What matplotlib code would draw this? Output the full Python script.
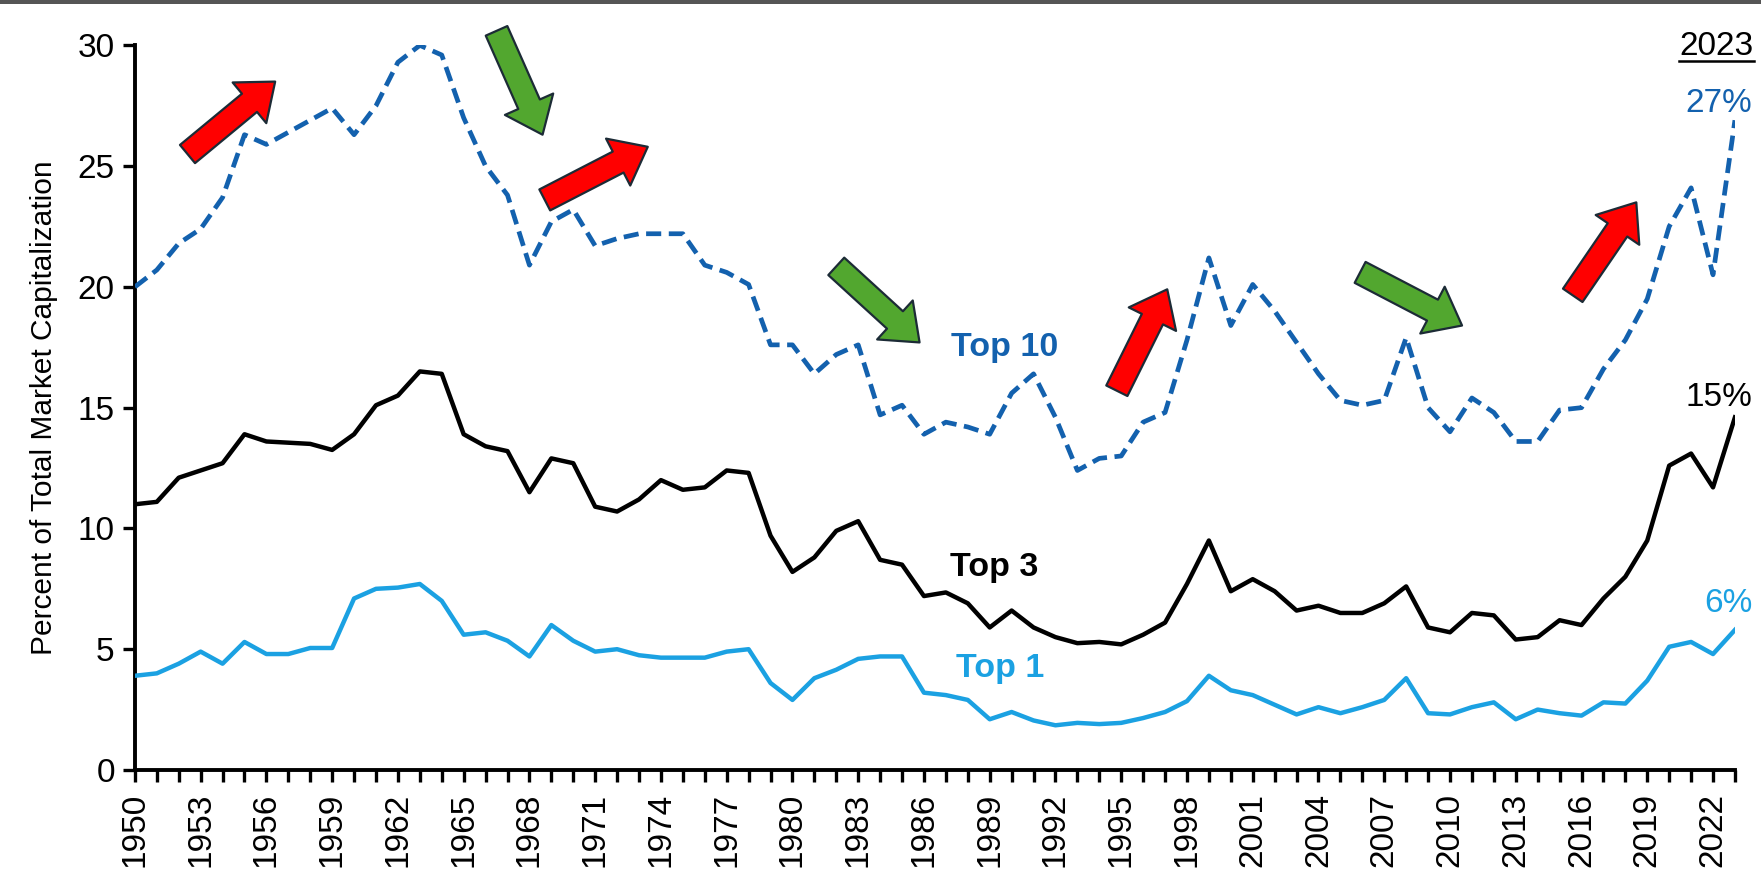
import matplotlib
matplotlib.use('Agg')
import matplotlib.pyplot as plt
from matplotlib.patches import FancyArrowPatch, Rectangle
from matplotlib.lines import Line2D

plt.rcParams['font.family'] = ['Liberation Sans', 'DejaVu Sans']

# Data (percent of total market cap)
years = list(range(1950, 2024))

top10 = [20.0, 20.7, 21.8, 22.4, 23.7, 26.3, 25.9, 26.4, 26.9, 27.4,
         26.3, 27.5, 29.3, 30.0, 29.6, 27.0, 25.0, 23.8, 20.9, 22.7,
         23.2, 21.7, 22.0, 22.2, 22.2, 22.2, 20.9, 20.6, 20.1, 17.6,
         17.6, 16.4, 17.2, 17.6, 14.7, 15.1, 13.9, 14.4, 14.2, 13.9,
         15.6, 16.4, 14.6, 12.4, 12.9, 13.0, 14.4, 14.8, 17.8, 21.2,
         18.4, 20.1, 19.0, 17.7, 16.4, 15.3, 15.1, 15.3, 17.9, 15.0,
         14.0, 15.4, 14.8, 13.6, 13.6, 14.9, 15.0, 16.6, 17.8, 19.5,
         22.5, 24.1, 20.5, 26.9]

top3 = [11.0, 11.1, 12.1, 12.4, 12.7, 13.9, 13.6, 13.55, 13.5, 13.25,
        13.9, 15.1, 15.5, 16.5, 16.4, 13.9, 13.4, 13.2, 11.5, 12.9,
        12.7, 10.9, 10.7, 11.2, 12.0, 11.6, 11.7, 12.4, 12.3, 9.7,
        8.2, 8.8, 9.9, 10.3, 8.7, 8.5, 7.2, 7.35, 6.9, 5.9,
        6.6, 5.9, 5.5, 5.25, 5.3, 5.2, 5.6, 6.1, 7.7, 9.5,
        7.4, 7.9, 7.4, 6.6, 6.8, 6.5, 6.5, 6.9, 7.6, 5.9,
        5.7, 6.5, 6.4, 5.4, 5.5, 6.2, 6.0, 7.1, 8.0, 9.5,
        12.6, 13.1, 11.7, 14.6]

top1 = [3.9, 4.0, 4.4, 4.9, 4.4, 5.3, 4.8, 4.8, 5.05, 5.05,
        7.1, 7.5, 7.55, 7.7, 7.0, 5.6, 5.7, 5.35, 4.7, 6.0,
        5.35, 4.9, 5.0, 4.75, 4.65, 4.65, 4.65, 4.9, 5.0, 3.6,
        2.9, 3.8, 4.15, 4.6, 4.7, 4.7, 3.2, 3.1, 2.9, 2.1,
        2.4, 2.05, 1.85, 1.95, 1.9, 1.95, 2.15, 2.4, 2.85, 3.9,
        3.3, 3.1, 2.7, 2.3, 2.6, 2.35, 2.6, 2.9, 3.8, 2.35,
        2.3, 2.6, 2.8, 2.1, 2.5, 2.35, 2.25, 2.8, 2.75, 3.7,
        5.1, 5.3, 4.8, 5.8]

# trend arrows: (tail year, tail value, head year, head value, colour)
arrows = [
    (1952.4, 25.5, 1956.4, 28.5, 'red'),
    (1966.5, 30.6, 1968.6, 26.3, 'green'),
    (1968.7, 23.6, 1973.4, 25.8, 'red'),
    (1982.0, 20.85, 1985.8, 17.7, 'green'),
    (1994.8, 15.7, 1997.1, 19.9, 'red'),
    (2005.9, 20.6, 2010.55, 18.4, 'green'),
    (2015.6, 19.65, 2018.5, 23.5, 'red'),
]

c_top10 = '#1361AE'
c_top3 = 'black'
c_top1 = '#1BA1E2'
arrow_fill = {'red': '#FF0000', 'green': '#52A72F'}

fig = plt.figure(figsize=(17.61, 8.72), dpi=100)
ax = fig.add_axes([0.0766, 0.117, 0.9086, 0.831])

ax.plot(years, top10, color=c_top10, lw=3.4, linestyle=(0, (3.2, 1.6)), zorder=3)
ax.plot(years, top3, color=c_top3, lw=3.2, zorder=3)
ax.plot(years, top1, color=c_top1, lw=3.2, zorder=3)

ax.set_xlim(1950, 2023)
ax.set_ylim(0, 30)
ax.set_yticks([0, 5, 10, 15, 20, 25, 30])
ax.set_xticks(years)
ax.set_xticklabels([str(y) if (y - 1950) % 3 == 0 else '' for y in years], rotation=90)
ax.tick_params(axis='both', labelsize=24, length=8.5, width=2.4, color='black')
ax.tick_params(axis='y', pad=6)
ax.tick_params(axis='x', pad=8)

for s in ['top', 'right']:
    ax.spines[s].set_visible(False)
for s in ['left', 'bottom']:
    ax.spines[s].set_linewidth(2.8)

ax.set_ylabel('Percent of Total Market Capitalization', fontsize=21.5, labelpad=14)

# series labels
ax.text(1989.7, 17.5, 'Top 10', color=c_top10, fontsize=24.5, fontweight='bold', ha='center', va='center')
ax.text(1989.2, 8.4, 'Top 3', color=c_top3, fontsize=24.5, fontweight='bold', ha='center', va='center')
ax.text(1989.5, 4.2, 'Top 1', color=c_top1, fontsize=24.5, fontweight='bold', ha='center', va='center')

# end-of-series values
t2023 = ax.text(2023.85, 29.95, '2023', fontsize=24, ha='right', va='center', clip_on=False)
ax.text(2023.8, 27.6, '27%', color=c_top10, fontsize=24, ha='right', va='center', clip_on=False)
ax.text(2023.8, 15.4, '15%', color=c_top3, fontsize=24, ha='right', va='center', clip_on=False)
ax.text(2023.8, 6.9, '6%', color=c_top1, fontsize=24, ha='right', va='center', clip_on=False)

for x0, y0, x1, y1, c in arrows:
    arr = FancyArrowPatch((x0, y0), (x1, y1),
                          arrowstyle='simple,head_width=38,head_length=24,tail_width=17',
                          mutation_scale=1, facecolor=arrow_fill[c], edgecolor='#1C2B36',
                          lw=1.6, shrinkA=0, shrinkB=0, clip_on=False, zorder=5)
    ax.add_patch(arr)

# underline under "2023"
fig.canvas.draw()
bb = t2023.get_window_extent()
fig.add_artist(Line2D([bb.x0 / fig.bbox.width, bb.x1 / fig.bbox.width],
                      [(bb.y0 + 1) / fig.bbox.height] * 2,
                      transform=fig.transFigure, color='black', lw=1.8))

# thin frame line across the top of the image
fig.add_artist(Rectangle((0, 0.995), 1, 0.005, transform=fig.transFigure,
                         facecolor='#555555', edgecolor='none'))

fig.savefig('out.png', dpi=100)
